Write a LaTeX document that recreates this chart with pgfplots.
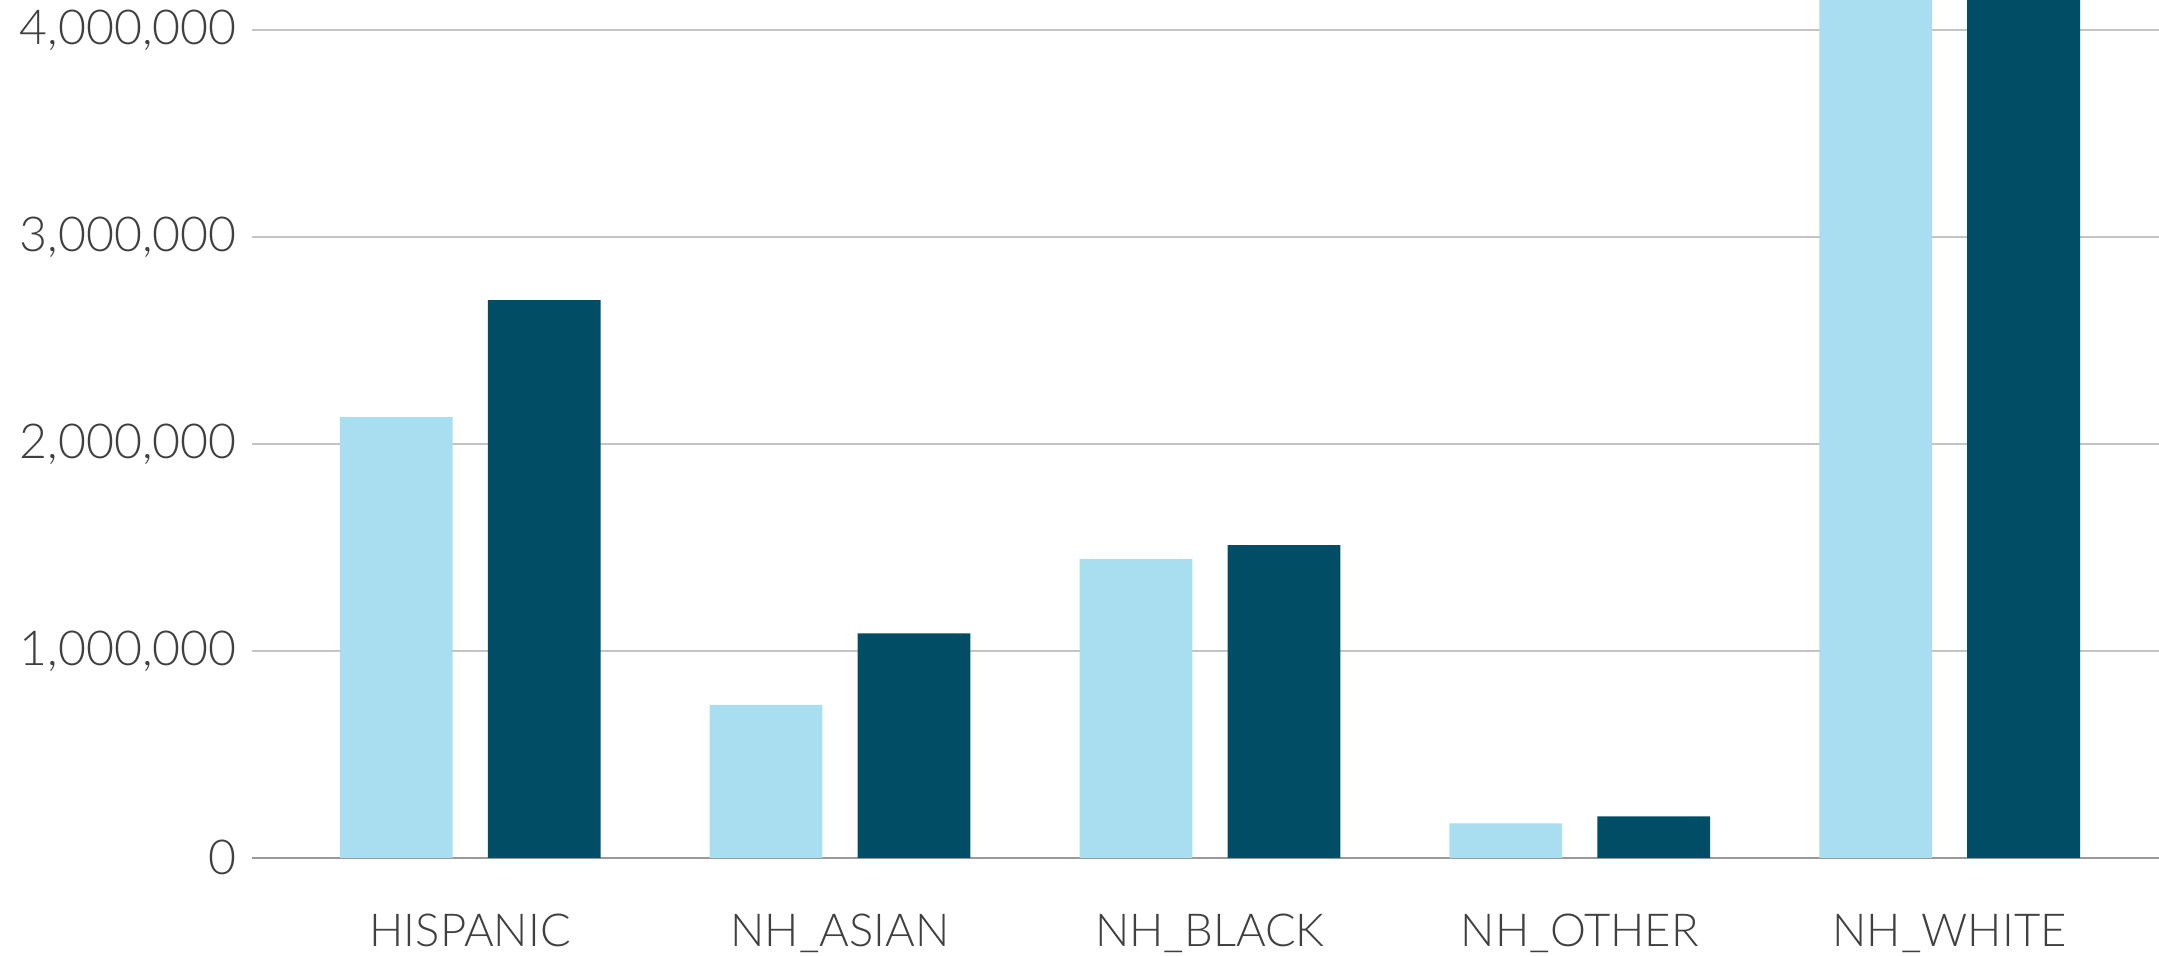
\documentclass[border=0pt]{standalone}
\usepackage{fontspec}
\setmainfont{Lato Light}
\usepackage{pgfplots}
\pgfplotsset{compat=1.18}
\definecolor{lightb}{HTML}{A8DEEF}
\definecolor{darkb}{HTML}{004D65}
\definecolor{gridc}{HTML}{C4C4C4}
\definecolor{txt}{HTML}{404040}
\begin{document}
\begin{tikzpicture}
\useasboundingbox (0,0) rectangle (784pt,347pt);
\begin{axis}[
  at={(91.5pt,35.5pt)}, anchor=south west,
  scale only axis, width=692.5pt, height=311.5pt,
  xmin=-0.59, xmax=4.566, ymin=0, ymax=4146000,
  axis line style={draw=none},
  xtick={0,1,2,3,4},
  xticklabels={HISPANIC,NH\_ASIAN,NH\_BLACK,NH\_OTHER,NH\_WHITE},
  major tick length=0pt,
  ytick={1000000,2000000,3000000,4000000},
  extra y ticks={0},
  extra y tick style={grid style={draw=gray!80, line width=0.8pt}},
  ymajorgrids, grid style={draw=gridc, line width=0.8pt},
  scaled y ticks=false,
  /pgf/number format/assume math mode=true,
  yticklabel={\pgfmathprintnumber[fixed,1000 sep={,}]{\tick}},
  tick label style={text=txt},
  yticklabel style={xshift=-2pt, font=\fontsize{17.5}{20}\selectfont},
  xticklabel style={yshift=-17pt, font=\fontsize{16.5}{19}\selectfont},
  bar width=0.305,
]
\addplot[ybar, bar shift=-0.2, fill=lightb, draw=none] coordinates {
 (0,2130000) (1,739000) (2,1444000) (3,166000) (4,4600000)};
\addplot[ybar, bar shift=0.2, fill=darkb, draw=none] coordinates {
 (0,2695000) (1,1085000) (2,1511000) (3,200000) (4,4500000)};
\end{axis}
\end{tikzpicture}
\end{document}
